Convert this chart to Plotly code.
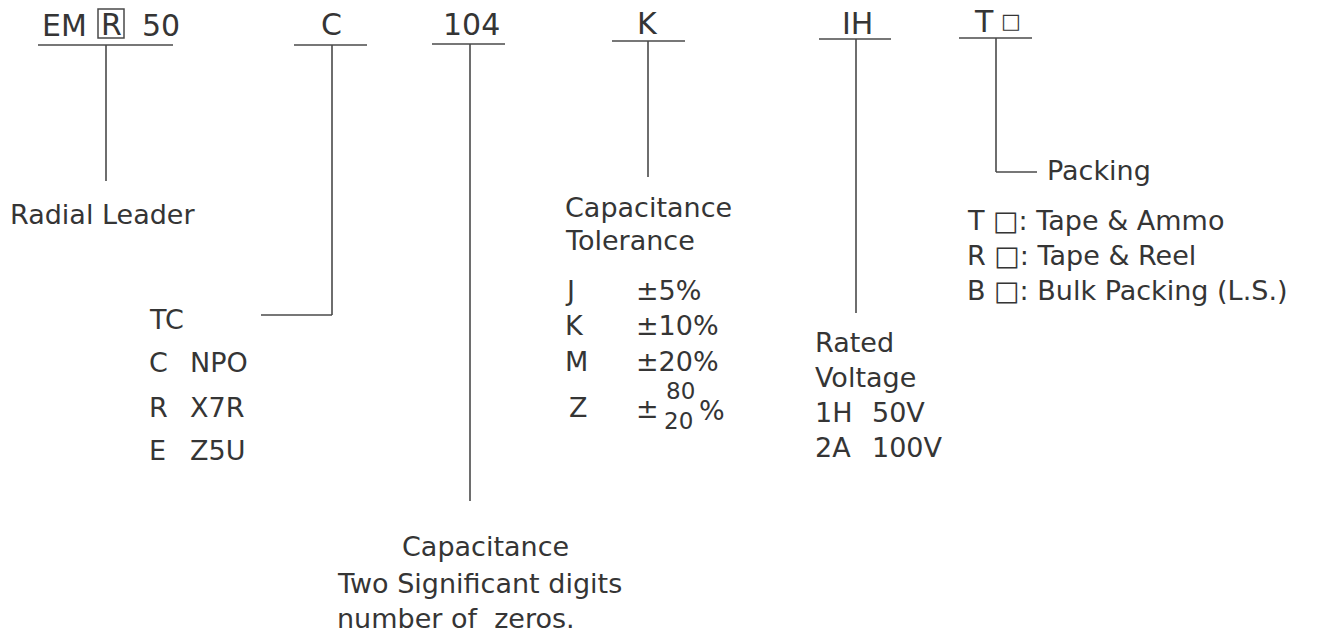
import plotly.graph_objects as go

# ---------------- content (text values) ----------------
prefix_parts = ["EM", "R", "50"]
code_labels = ["C", "104", "K", "IH", "T"]
box_glyph = "□"

radial_title = "Radial Leader"

tc_title = "TC"
tc_codes = ["C", "R", "E"]
tc_names = ["NPO", "X7R", "Z5U"]

cap_lines = ["Capacitance", "Two Significant digits", "number of  zeros."]

tol_title = ["Capacitance", "Tolerance"]
tol_codes = ["J", "K", "M", "Z"]
tol_values = ["±5%", "±10%", "±20%"]
tol_asym = ["±", "80", "20", "%"]

volt_title = ["Rated", "Voltage"]
volt_codes = ["1H", "2A"]
volt_values = ["50V", "100V"]

pack_title = "Packing"
pack_codes = ["T", "R", "B"]
pack_names = ["Tape & Ammo", "Tape & Reel", "Bulk Packing (L.S.)"]

# ---------------- layout / styling ----------------
W, H = 1325, 633
FONT = "DejaVu Sans"
TXT = "#353535"
LINE = "#4a4a4a"
BIG = 30
BODY = 27
SMALL = 23

annotations = []
shapes = []


def txt(x, y, s, size=BODY, anchor="left"):
    annotations.append(dict(
        x=x, y=y, xref="x", yref="y", text=s, showarrow=False,
        xanchor=anchor, yanchor="middle",
        font=dict(family=FONT, size=size, color=TXT),
    ))


def seg(x0, y0, x1, y1, w=1.6):
    shapes.append(dict(type="line", xref="x", yref="y",
                       x0=x0, y0=y0, x1=x1, y1=y1,
                       line=dict(color=LINE, width=w)))


# top row: EM [R] 50
txt(40, 25, prefix_parts[0], BIG)
txt(111, 24, prefix_parts[1], BIG, "center")
txt(140, 25, prefix_parts[2], BIG)
shapes.append(dict(type="rect", xref="x", yref="y", x0=98, x1=124, y0=9, y1=38,
                   line=dict(color=LINE, width=1.5)))

code_x = [331, 471, 647, 857, 972]
code_y = [24, 24, 23, 23, 21]
for i, (lab, cx, cy) in enumerate(zip(code_labels, code_x, code_y)):
    txt(cx, cy, lab, BIG, "left" if i == 4 else "center")
txt(999, 21, box_glyph, 21)

# underlines (x0, x1, y)
underlines = [(38, 173, 45), (294, 367, 45), (432, 505, 44),
              (612, 685, 41), (819, 891, 39), (959, 1032, 38)]
for x0, x1, y in underlines:
    seg(x0, y, x1, y)

# leader lines
seg(106, 45, 106, 181)                 # Radial leader
seg(332, 45, 332, 315); seg(332, 315, 261, 315)   # TC
seg(470, 44, 470, 501)                 # capacitance
seg(648, 41, 648, 177)                 # tolerance
seg(856, 39, 856, 313)                 # voltage
seg(996, 38, 996, 172); seg(996, 172, 1037, 172)  # packing

# Radial leader
txt(8, 214, radial_title)

# TC block
txt(147, 319, tc_title)
tc_y = [362, 407, 450]
for c, n, y in zip(tc_codes, tc_names, tc_y):
    txt(147, y, c)
    txt(188, y, n)

# Capacitance (bottom)
cap_pos = [(400, 546), (335, 583), (335, 618)]
for s, (x, y) in zip(cap_lines, cap_pos):
    txt(x, y, s)

# Tolerance
txt(563, 207, tol_title[0])
txt(563, 240, tol_title[1])
tol_y = [290, 325, 361, 407]
for i, (c, y) in enumerate(zip(tol_codes, tol_y)):
    txt(563 if i < 3 else 567, y, c)
for v, y in zip(tol_values, tol_y[:3]):
    txt(634, y, v)
txt(634, 408, tol_asym[0])
txt(664, 391, tol_asym[1], SMALL)
txt(662, 421, tol_asym[2], SMALL)
txt(697, 410, tol_asym[3])

# Voltage
txt(813, 342, volt_title[0])
txt(813, 377, volt_title[1])
volt_y = [412, 447]
for c, v, y in zip(volt_codes, volt_values, volt_y):
    txt(813, y, c)
    txt(870, y, v)

# Packing
txt(1045, 170, pack_title)
pack_y = [220, 255, 290]
for c, n, y in zip(pack_codes, pack_names, pack_y):
    txt(965, y, f"{c} {box_glyph}: {n}")

fig = go.Figure()
fig.update_layout(
    width=W, height=H,
    margin=dict(l=0, r=0, t=0, b=0),
    paper_bgcolor="white", plot_bgcolor="white",
    xaxis=dict(range=[0, W], visible=False, fixedrange=True),
    yaxis=dict(range=[H, 0], visible=False, fixedrange=True),
    annotations=annotations, shapes=shapes,
    showlegend=False,
)
fig.write_html(
    "out.html",
    config={"displayModeBar": False},
    post_script="document.body.style.margin='0';document.body.style.overflow='hidden';",
)
